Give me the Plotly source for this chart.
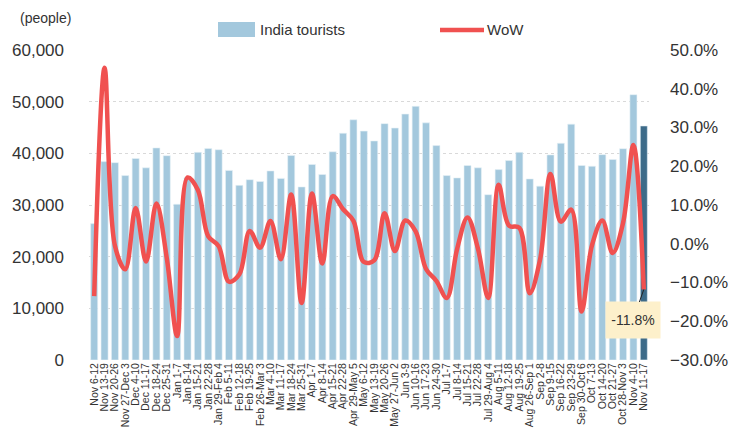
import plotly.graph_objects as go

weeks = ["Nov 6-12", "Nov 13-19", "Nov 20-26", "Nov 27-Dec 3", "Dec 4-10", "Dec 11-17",
         "Dec 18-24", "Dec 25-31", "Jan 1-7", "Jan 8-14", "Jan 15-21", "Jan 22-28",
         "Jan 29-Feb 4", "Feb 5-11", "Feb 12-18", "Feb 19-25", "Feb 26-Mar 3", "Mar 4-10",
         "Mar 11-17", "Mar 18-24", "Mar 25-31", "Apr 1-7", "Apr 8-14", "Apr 15-21",
         "Apr 22-28", "Apr 29-May 5", "May 6-12", "May 13-19", "May 20-26", "May 27-Jun 2",
         "Jun 3-9", "Jun 10-16", "Jun 17-23", "Jun 24-30", "Jul 1-7", "Jul 8-14",
         "Jul 15-21", "Jul 22-28", "Jul 29-Aug 4", "Aug 5-11", "Aug 12-18", "Aug 19-25",
         "Aug 26-Sep 1", "Sep 2-8", "Sep 9-15", "Sep 16-22", "Sep 23-29", "Sep 30-Oct 6",
         "Oct 7-13", "Oct 14-20", "Oct 21-27", "Oct 28-Nov 3", "Nov 4-10", "Nov 11-17"]

tourists = [26400, 38400, 38200, 35700, 39000, 37200, 41050, 39550, 30150, 35300,
            40200, 40950, 40700, 36700, 33800, 34900, 34550, 36600, 35150, 39600,
            33500, 37850, 35900, 40300, 43900, 46500, 44300, 42400, 45750, 44900,
            47600, 49100, 45900, 41500, 35700, 35250, 37650, 37200, 32000, 36850,
            38600, 40200, 35050, 33650, 39700, 41950, 45650, 37650, 37500, 39750,
            38800, 40900, 51350, 45300]

wow = [-13.5, 45.4, -0.5, -6.6, 9.2, -4.6, 10.4, -3.7, -23.8, 17.1,
       13.9, 1.9, -0.6, -9.8, -7.9, 3.3, -1.0, 5.9, -4.0, 12.7,
       -15.3, 13.0, -5.1, 12.3, 8.9, 5.9, -4.7, -4.3, 7.9, -1.9,
       6.0, 3.2, -6.5, -9.6, -14.0, -1.3, 6.8, -1.2, -14.0, 15.2,
       4.7, 4.1, -12.8, -4.0, 18.0, 5.7, 8.8, -17.5, -0.4, 6.0,
       -2.4, 5.4, 25.5, -11.8]

BAR = "#a3c8dd"
BAR_LAST = "#3d6b89"
RED = "#f05150"
FONT = "Liberation Sans"
TXT = "#333333"

bar_colors = [BAR] * (len(weeks) - 1) + [BAR_LAST]

fig = go.Figure()
fig.add_trace(go.Bar(x=weeks, y=tourists, name="India tourists",
                     marker=dict(color=bar_colors, line=dict(color="#e8f1f6", width=0.6)),
                     yaxis="y"))
fig.add_trace(go.Scatter(x=weeks, y=wow, name="WoW", mode="lines",
                         line=dict(color=RED, width=4.5, shape="spline", smoothing=1),
                         yaxis="y2"))

fig.update_layout(
    width=733, height=434,
    margin=dict(l=89, r=84, t=50, b=74, autoexpand=False),
    paper_bgcolor="white", plot_bgcolor="white",
    showlegend=False,
    bargap=0.32,
    font=dict(family=FONT, color=TXT),
    xaxis=dict(type="category", range=[-0.5, len(weeks) - 0.5], tickangle=-90,
               tickmode="array", tickvals=weeks, ticktext=weeks, automargin=False,
               tickfont=dict(size=10.5, color=TXT), showgrid=False,
               showline=False, ticks=""),
    yaxis=dict(range=[0, 60000], dtick=10000, tickformat=",", showgrid=True,
               gridcolor="#d9d9d9", griddash="dot", gridwidth=1, zeroline=False,
               automargin=False,
               tickfont=dict(size=17, color=TXT), ticklabelstandoff=24),
    yaxis2=dict(range=[-30, 50], dtick=10, tickformat=".1f", ticksuffix="%",
                overlaying="y", side="right", showgrid=False, zeroline=False,
                automargin=False,
                tickfont=dict(size=17, color=TXT), ticklabelstandoff=20),
)

def px(x):
    return (x - 89) / 560

def py(y):
    return (360 - y) / 310

# legend drawn manually
fig.add_shape(type="rect", xref="paper", yref="paper", x0=px(218), x1=px(255),
              y0=py(22), y1=py(37), fillcolor=BAR, line=dict(width=0))
fig.add_annotation(xref="paper", yref="paper", x=px(258), y=py(29), yanchor="middle",
                   text="India tourists", showarrow=False, xanchor="left",
                   font=dict(size=15, color=TXT))
fig.add_shape(type="line", xref="paper", yref="paper", x0=px(440), x1=px(484),
              y0=py(30), y1=py(30), line=dict(color=RED, width=4.5))
fig.add_annotation(xref="paper", yref="paper", x=px(485), y=py(29), yanchor="middle",
                   text="WoW", showarrow=False, xanchor="left",
                   font=dict(size=15, color=TXT))
fig.add_annotation(xref="paper", yref="paper", x=px(18), y=py(18), yanchor="middle",
                   text="(people)", showarrow=False, xanchor="left",
                   font=dict(size=14, color=TXT))

# callout for last value
fig.add_annotation(x=weeks[-1], y=wow[-1], xref="x", yref="y2",
                   text=f"{wow[-1]:.1f}%", showarrow=True, arrowhead=0, arrowwidth=1,
                   arrowcolor="#222222", ax=-11, ay=31, bgcolor="#fdf0cb",
                   width=52, height=34, font=dict(size=14, color=TXT))

fig.write_html("out.html", config={"displayModeBar": False},
               post_script="document.body.style.margin='0px';")
